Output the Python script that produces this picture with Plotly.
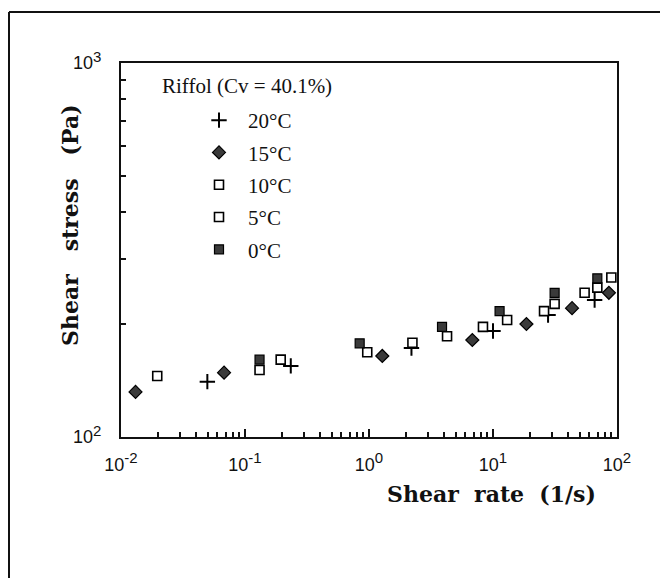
import plotly.graph_objects as go

# ---- data ----
rate_20 = [0.0497, 0.234, 2.2, 10.0, 27.8, 66.0]
stress_20 = [140.6, 154.9, 173.0, 192.0, 212.0, 232.5]

rate_15 = [0.0131, 0.0678, 1.28, 6.81, 18.6, 43.4, 86.0]
stress_15 = [132.0, 148.6, 164.7, 181.7, 200.5, 221.0, 243.0]

rate_10 = [0.0196, 0.194, 2.24, 8.3, 25.8, 54.8, 90.0]
stress_10 = [145.6, 161.0, 178.7, 197.0, 217.0, 243.0, 267.0]

rate_5 = [0.131, 0.968, 4.26, 13.0, 31.4, 69.4]
stress_5 = [151.0, 168.5, 186.0, 205.5, 227.0, 250.8]

rate_0 = [0.131, 0.841, 3.88, 11.3, 31.4, 69.4]
stress_0 = [161.0, 178.0, 197.0, 217.0, 243.0, 265.7]

x_major = [0.01, 0.1, 1, 10, 100]
x_exponents = ["-2", "-1", "0", "1", "2"]
y_major = [100, 1000]
y_exponents = ["2", "3"]

legend_title = "Riffol (Cv = 40.1%)"
x_title = "<b>Shear\u00a0 rate\u00a0 (1/s)</b>"
y_title = "<b>Shear\u00a0\u00a0 stress\u00a0\u00a0 (Pa)</b>"


def pow_label(e):
    return "10<sup><span style='font-size:15px'>" + e + "</span></sup>"


x_major_text = [pow_label(e) for e in x_exponents]
y_major_text = [pow_label(e) for e in y_exponents]

x_minor = [m * 10 ** e for e in range(-2, 2) for m in range(2, 10)]
y_minor = [m * 100 for m in range(2, 10)]

fig = go.Figure()

dark = "#3a3a3a"
fig.add_trace(go.Scatter(x=rate_20, y=stress_20, mode="markers", name="20°C", legendgroup="a",
                         marker=dict(symbol="cross-thin", size=11, color="black",
                                     line=dict(width=2, color="black"))))
fig.add_trace(go.Scatter(x=rate_15, y=stress_15, mode="markers", name="15°C", legendgroup="b",
                         marker=dict(symbol="diamond", size=10, color=dark,
                                     line=dict(width=1.2, color="black"))))
fig.add_trace(go.Scatter(x=rate_10, y=stress_10, mode="markers", name="10°C", legendgroup="c",
                         marker=dict(symbol="square", size=9, color="white",
                                     line=dict(width=1.6, color="black"))))
fig.add_trace(go.Scatter(x=rate_5, y=stress_5, mode="markers", name="5°C", legendgroup="d",
                         marker=dict(symbol="square", size=9, color="white",
                                     line=dict(width=1.6, color="black"))))
fig.add_trace(go.Scatter(x=rate_0, y=stress_0, mode="markers", name="0°C", legendgroup="e",
                         marker=dict(symbol="square", size=9, color=dark,
                                     line=dict(width=1.2, color="black"))))

tickfont = dict(family="Liberation Sans, Arial, sans-serif", size=18, color="#111")

fig.update_xaxes(type="log", range=[-2, 2], showline=True, linecolor="#111", linewidth=2,
                 mirror=True, showgrid=False, zeroline=False,
                 tickmode="array", tickvals=x_major, ticktext=x_major_text,
                 ticks="inside", ticklen=8, tickwidth=2, tickcolor="#111",
                 tickfont=tickfont, ticklabelstandoff=10,
                 minor=dict(tickmode="array", tickvals=x_minor, ticks="inside",
                            ticklen=5, tickwidth=2, tickcolor="#111", showgrid=False))
fig.update_yaxes(type="log", range=[2, 3], showline=True, linecolor="#111", linewidth=2,
                 mirror=True, showgrid=False, zeroline=False,
                 tickmode="array", tickvals=y_major, ticktext=y_major_text,
                 ticks="inside", ticklen=8, tickwidth=2, tickcolor="#111",
                 tickfont=tickfont, ticklabelstandoff=14,
                 minor=dict(tickmode="array", tickvals=y_minor, ticks="inside",
                            ticklen=5, tickwidth=2, tickcolor="#111", showgrid=False))

serif = "Liberation Serif, Times New Roman, serif"
titlefont = "DejaVu Serif, serif"
fig.update_layout(
    width=660, height=578,
    margin=dict(l=121, r=43, t=63, b=141),
    paper_bgcolor="white", plot_bgcolor="white",
    showlegend=True,
    legend=dict(x=(190 - 121) / 496, y=(437 - 100) / 374, xanchor="left", yanchor="top",
                font=dict(family=serif, size=21, color="#111"),
                bgcolor="rgba(0,0,0,0)", tracegroupgap=2, itemwidth=48),
    annotations=[
        dict(text=legend_title, xref="paper", yref="paper", x=(160 - 121) / 496,
             y=(437 - 86) / 374, xanchor="left", yanchor="middle", showarrow=False,
             font=dict(family=serif, size=21, color="#111")),
        dict(text=x_title, xref="paper", yref="paper", x=(598 - 121) / 496,
             y=(437 - 494) / 374, xanchor="right", yanchor="middle", showarrow=False,
             font=dict(family=titlefont, size=22, color="#111")),
        dict(text=y_title, xref="paper", yref="paper", x=(70 - 121) / 496,
             y=(437 - 225) / 374, xanchor="center", yanchor="middle", showarrow=False,
             textangle=-90, font=dict(family=titlefont, size=22, color="#111")),
    ],
    shapes=[
        dict(type="line", xref="paper", yref="paper", x0=(9 - 121) / 496, x1=(662 - 121) / 496,
             y0=(437 - 12) / 374, y1=(437 - 12) / 374, line=dict(color="#111", width=2)),
        dict(type="line", xref="paper", yref="paper", x0=(9 - 121) / 496, x1=(9 - 121) / 496,
             y0=(437 - 12) / 374, y1=(437 - 580) / 374, line=dict(color="#111", width=2)),
    ],
)

fig.write_html("out.html")
